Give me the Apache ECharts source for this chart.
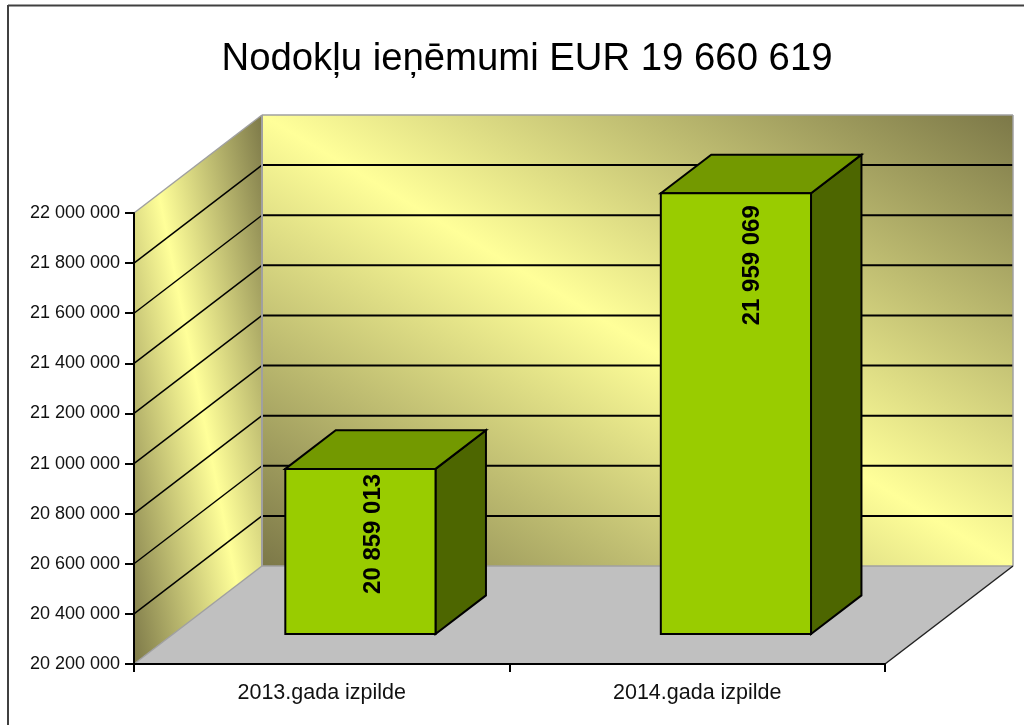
<!DOCTYPE html>
<html>
<head>
<meta charset="utf-8">
<style>html,body{margin:0;padding:0;background:#fff}#c{width:1024px;height:725px}</style>
<script src="https://cdn.jsdelivr.net/npm/echarts@6/dist/echarts.min.js"></script>
</head>
<body>
<div id="c"></div>
<script>
var titleText = 'Nodokļu ieņēmumi EUR 19 660 619';
var categories = ['2013.gada izpilde', '2014.gada izpilde'];
var values = [20859013, 21959069];
var yTicks = [20200000, 20400000, 20600000, 20800000, 21000000, 21200000, 21400000, 21600000, 21800000, 22000000];

var DX = 128, DY = 98;            // 3D depth of the plot box
var BAR_NEAR = 0.306, BAR_FAR = 0.70; // bar depth range in the box
var BAR_WIDTH = 0.4;              // share of the category band
var LABEL_SHIFT = [[13, 65], [16, 72]]; // label offset from each bar's top front centre

function fmt(v) { return String(v).replace(/\B(?=(\d{3})+$)/g, ' '); }
function poly(pts, style, z) {
  return { type: 'polygon', shape: { points: pts }, style: style, z2: z || 0 };
}
function seg(a, b, stroke, w, z) {
  return { type: 'line', shape: { x1: a[0], y1: a[1], x2: b[0], y2: b[1] }, style: { stroke: stroke, lineWidth: w, fill: null }, z2: z || 1 };
}
function grad(x, y, x2, y2) {
  return { type: 'linear', x: x, y: y, x2: x2, y2: y2, global: true, colorStops: [
    { offset: 0, color: '#7c7848' }, { offset: 0.5, color: '#ffff99' }, { offset: 1, color: '#7c7848' }] };
}

function renderWalls(params, api) {
  var g = params.coordSys;
  var L = g.x, R = g.x + g.width;
  var top = api.coord([0, yTicks[yTicks.length - 1]])[1];
  var bot = api.coord([0, yTicks[0]])[1];
  var edge = '#a0a0a0';
  var ch = [];
  // back wall
  ch.push(poly([[L + DX, top - DY], [R + DX, top - DY], [R + DX, bot - DY], [L + DX, bot - DY]],
    { fill: grad(836.5, 9.5, 438.5, 671.5) }));
  // side wall
  ch.push(poly([[L, top], [L + DX, top - DY], [L + DX, bot - DY], [L, bot]],
    { fill: grad(313, 367, 83, 413) }));
  // floor
  ch.push(poly([[L, bot], [R, bot], [R + DX, bot - DY], [L + DX, bot - DY]], { fill: '#c0c0c0' }));
  // gridlines on walls
  yTicks.slice(1, -1).forEach(function (t) {
    var y = api.coord([0, t])[1];
    ch.push(seg([L, y], [L + DX, y - DY], '#000', 1.5));
    ch.push(seg([L + DX, y - DY], [R + DX, y - DY], '#000', 2));
  });
  // wall edges
  ch.push(seg([L, top], [L + DX, top - DY], edge, 1.5));
  ch.push(seg([L + DX, top - DY], [R + DX, top - DY], edge, 1.5));
  ch.push(seg([R + DX, top - DY], [R + DX, bot - DY], edge, 1.5));
  ch.push(seg([L + DX, top - DY], [L + DX, bot - DY], edge, 2));
  ch.push(seg([L + DX, bot - DY], [R + DX, bot - DY], edge, 1.5));
  ch.push(seg([L, bot], [L + DX, bot - DY], edge, 1.5));
  ch.push(seg([R, bot], [R + DX, bot - DY], '#222', 1.5));
  return { type: 'group', children: ch };
}

function renderBar(params, api) {
  var c = api.coord([api.value(0), api.value(1)]);
  var base = api.coord([api.value(0), yTicks[0]]);
  var w = api.size([1, 0])[0] * BAR_WIDTH;
  var nx = DX * BAR_NEAR, ny = DY * BAR_NEAR;
  var fx = DX * (BAR_FAR - BAR_NEAR), fy = DY * (BAR_FAR - BAR_NEAR);
  var x0 = c[0] - w / 2 + nx - 0.5, x1 = x0 + w;
  var yT = c[1] - ny, yB = base[1] - ny;
  var line = { stroke: '#000', lineWidth: 2, lineJoin: 'miter' };
  function st(fill) { return Object.assign({ fill: fill }, line); }
  var shift = LABEL_SHIFT[params.dataIndex];
  return { type: 'group', children: [
    poly([[x1, yT], [x1 + fx, yT - fy], [x1 + fx, yB - fy], [x1, yB]], st('#4d6600')),
    poly([[x0, yT], [x0 + fx, yT - fy], [x1 + fx, yT - fy], [x1, yT]], st('#739900')),
    poly([[x0, yT], [x1, yT], [x1, yB], [x0, yB]], st('#99cc00')),
    { type: 'text', x: (x0 + x1) / 2 + shift[0], y: yT + shift[1], rotation: Math.PI / 2, z2: 5,
      style: { text: fmt(api.value(1)), font: 'bold 24px "Liberation Sans", Arial, sans-serif', fill: '#000', align: 'center', verticalAlign: 'middle' } }
  ] };
}

var chart = echarts.init(document.getElementById('c'), null, { renderer: 'canvas' });
chart.setOption({
  animation: false,
  backgroundColor: '#fff',
  title: { text: titleText, left: 522, top: 35, textAlign: 'center',
    textStyle: { fontFamily: '"Liberation Sans", Arial, sans-serif', fontWeight: 'normal', fontSize: 38.3, color: '#000' } },
  graphic: [
    { type: 'line', shape: { x1: 8, y1: 5.5, x2: 1024, y2: 5.5 }, style: { stroke: '#404040', lineWidth: 2 } },
    { type: 'line', shape: { x1: 8, y1: 5, x2: 8, y2: 725 }, style: { stroke: '#404040', lineWidth: 2 } }
  ],
  grid: { left: 134, right: 139, top: 213, bottom: 61, containLabel: false },
  xAxis: { type: 'category', data: categories, z: 6,
    axisLine: { lineStyle: { color: '#000', width: 2 } },
    axisTick: { show: true, alignWithLabel: false, length: 8, lineStyle: { color: '#000', width: 2 } },
    axisLabel: { fontFamily: '"Liberation Sans", Arial, sans-serif', fontSize: 21.5, color: '#111', margin: 18 } },
  yAxis: { type: 'value', min: yTicks[0], max: yTicks[yTicks.length - 1], interval: 200000, z: 6,
    axisLine: { show: true, lineStyle: { color: '#000', width: 2 } },
    axisTick: { show: true, length: 9, lineStyle: { color: '#000', width: 2 } },
    splitLine: { show: false },
    axisLabel: { fontFamily: '"Liberation Sans", Arial, sans-serif', fontSize: 18, color: '#111', margin: 14, formatter: fmt } },
  series: [
    { type: 'custom', z: 1, silent: true, renderItem: renderWalls, data: [[0, yTicks[0]]], encode: { x: 0, y: 1 } },
    { type: 'custom', z: 3, renderItem: renderBar, encode: { x: 0, y: 1 },
      data: values.map(function (v, i) { return [i, v]; }) }
  ]
});
</script>
</body>
</html>
